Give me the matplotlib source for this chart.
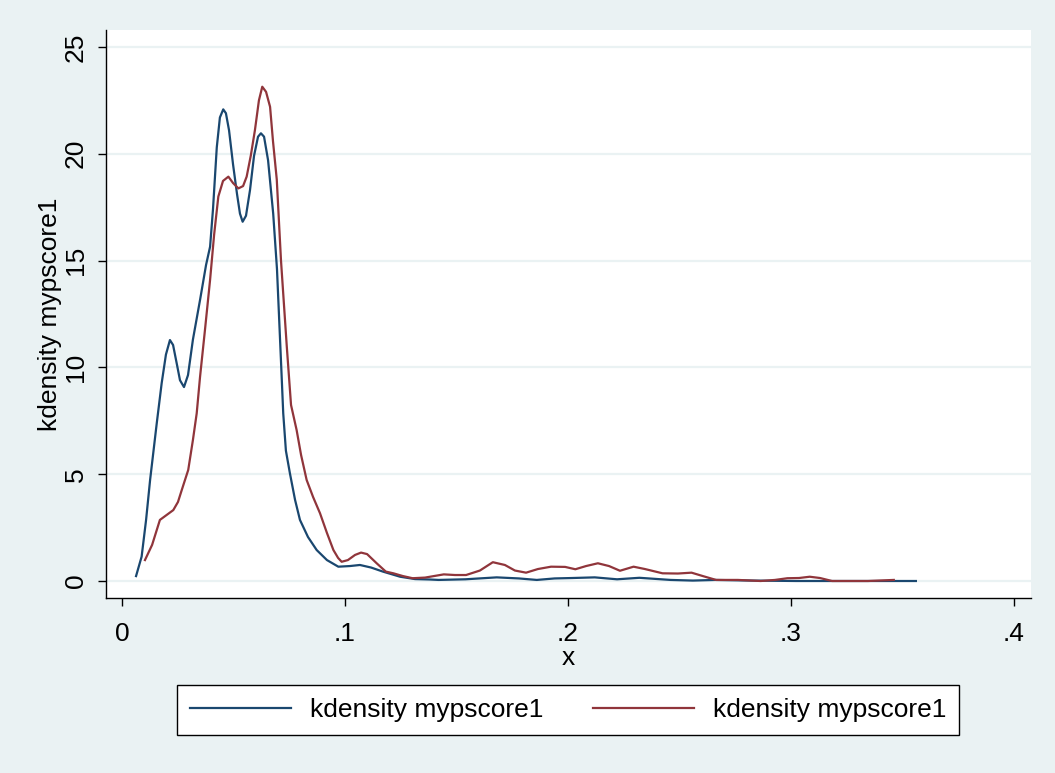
import matplotlib
matplotlib.use("Agg")
import matplotlib.pyplot as plt

# ---- data ----
blue_x = [0.0063, 0.0088, 0.0108, 0.0126, 0.0156, 0.0178, 0.0197, 0.0215, 0.0229, 0.0247,
          0.0260, 0.0278, 0.0296, 0.0318, 0.0350, 0.0377, 0.0395, 0.0408, 0.0425, 0.0439,
          0.0454, 0.0466, 0.0480, 0.0498, 0.0516, 0.0529, 0.0541, 0.0556, 0.0574, 0.0592,
          0.0610, 0.0623, 0.0637, 0.0655, 0.0678, 0.0695, 0.0716, 0.0723, 0.0735, 0.0753,
          0.0776, 0.0798, 0.0834, 0.0873, 0.0919, 0.0970, 0.1022, 0.1067, 0.1117, 0.1170,
          0.1247, 0.1314, 0.1381, 0.1420, 0.1540, 0.1680, 0.1780, 0.1860, 0.1940, 0.2020,
          0.2120, 0.2220, 0.2320, 0.2460, 0.2560, 0.2660, 0.2824, 0.3024, 0.3224, 0.3560]
blue_y = [0.23, 1.14, 2.86, 4.73, 7.40, 9.27, 10.6, 11.28, 11.05, 10.1,
          9.4, 9.08, 9.64, 11.3, 13.16, 14.8, 15.65, 17.4, 20.3, 21.7,
          22.08, 21.9, 21.1, 19.5, 18.1, 17.2, 16.82, 17.1, 18.3, 19.9,
          20.8, 20.96, 20.8, 19.7, 17.2, 14.6, 9.56, 7.85, 6.1, 5.04,
          3.8, 2.86, 2.06, 1.45, 0.98, 0.67, 0.70, 0.75, 0.63, 0.44,
          0.20, 0.09, 0.07, 0.05, 0.08, 0.17, 0.12, 0.05, 0.12, 0.14,
          0.17, 0.08, 0.15, 0.05, 0.02, 0.05, 0.02, 0.0, 0.0, 0.0]

red_x = [0.0103, 0.0135, 0.0170, 0.0200, 0.0230, 0.0251, 0.0268, 0.0297, 0.0318, 0.0335,
         0.0350, 0.0372, 0.0395, 0.0413, 0.0432, 0.0453, 0.0477, 0.0498, 0.0522, 0.0543,
         0.0559, 0.0578, 0.0596, 0.0614, 0.0629, 0.0646, 0.0664, 0.0677, 0.0694, 0.0713,
         0.0739, 0.0758, 0.0783, 0.0803, 0.0828, 0.0857, 0.0888, 0.0919, 0.0948, 0.0969,
         0.0985, 0.1013, 0.1045, 0.1072, 0.1099, 0.1142, 0.1183, 0.1217, 0.1260, 0.1303,
         0.1359, 0.1443, 0.1493, 0.1543, 0.1605, 0.1663, 0.1717, 0.1762, 0.1812, 0.1865,
         0.1924, 0.1987, 0.2033, 0.2081, 0.2134, 0.2184, 0.2233, 0.2294, 0.2345, 0.2424,
         0.2493, 0.2554, 0.2605, 0.2664, 0.2762, 0.2864, 0.2928, 0.2984, 0.3036, 0.3084,
         0.3130, 0.3184, 0.3265, 0.3345, 0.3461]
red_y = [0.98, 1.69, 2.86, 3.09, 3.32, 3.7, 4.26, 5.2, 6.6, 7.85,
         9.56, 11.75, 14.1, 16.2, 18.0, 18.73, 18.93, 18.63, 18.38, 18.49,
         18.93, 19.94, 21.1, 22.5, 23.14, 22.9, 22.2, 20.6, 18.8, 15.0,
         10.97, 8.24, 7.07, 5.9, 4.73, 3.93, 3.17, 2.25, 1.45, 1.08,
         0.9, 0.98, 1.22, 1.33, 1.26, 0.83, 0.44, 0.36, 0.23, 0.13,
         0.16, 0.31, 0.28, 0.28, 0.49, 0.88, 0.75, 0.49, 0.39, 0.56,
         0.67, 0.66, 0.55, 0.70, 0.83, 0.70, 0.48, 0.67, 0.56, 0.36,
         0.35, 0.39, 0.23, 0.05, 0.05, 0.0, 0.05, 0.13, 0.14, 0.20,
         0.14, 0.0, 0.0, 0.0, 0.05]

x_ticks = [0, 0.1, 0.2, 0.3, 0.4]
x_ticklabels = ["0", ".1", ".2", ".3", ".4"]
y_ticks = [0, 5, 10, 15, 20, 25]
y_ticklabels = ["0", "5", "10", "15", "20", "25"]
series_labels = ["kdensity mypscore1", "kdensity mypscore1"]

BG = "#eaf2f3"
BLUE = "#1a476f"
RED = "#90353b"
FS = 19

plt.rcParams["font.family"] = ["Liberation Sans", "DejaVu Sans"]

fig = plt.figure(figsize=(10.55, 7.73), dpi=100, facecolor=BG)
ax = fig.add_axes([106 / 1055, 1 - 598 / 773, (1031 - 106) / 1055, (598 - 30) / 773])
ax.set_facecolor("white")

for v in y_ticks:
    ax.axhline(v, color=BG, lw=1.6, zorder=1)

l1, = ax.plot(blue_x, blue_y, color=BLUE, lw=1.6, zorder=3)
l2, = ax.plot(red_x, red_y, color=RED, lw=1.6, zorder=3)

ax.set_xlim((106 - 122) / 2230, (1031 - 122) / 2230)
ax.set_ylim((581 - 598) / 21.36, (581 - 30) / 21.36)

ax.set_xticks(x_ticks)
ax.set_xticklabels(x_ticklabels)
ax.set_yticks(y_ticks)
ax.set_yticklabels(y_ticklabels, rotation=90, va="center")

for s in ["top", "right"]:
    ax.spines[s].set_visible(False)
for s in ["left", "bottom"]:
    ax.spines[s].set_color("black")
    ax.spines[s].set_linewidth(1.0)

ax.tick_params(axis="both", direction="out", length=5.5, width=1.0, colors="black",
               labelsize=FS)
ax.tick_params(axis="y", pad=7.8)
ax.tick_params(axis="x", pad=11.5)
ax.set_xlabel("x", fontsize=FS, labelpad=0.5)
ax.set_ylabel("kdensity mypscore1", fontsize=FS, labelpad=1.2)

leg = fig.legend([l1, l2], series_labels, loc="center",
                 bbox_to_anchor=(568 / 1055, 1 - 710 / 773), ncol=2,
                 fontsize=FS, frameon=True, fancybox=False, edgecolor="black",
                 facecolor="white", handlelength=3.83, handletextpad=0.72,
                 columnspacing=1.86, borderpad=0.5, borderaxespad=0)
leg.get_frame().set_linewidth(1.0)
leg.get_frame().set_alpha(1)
for line in leg.get_lines():
    line.set_linewidth(1.6)

fig.savefig("out.png", dpi=100, facecolor=BG)
